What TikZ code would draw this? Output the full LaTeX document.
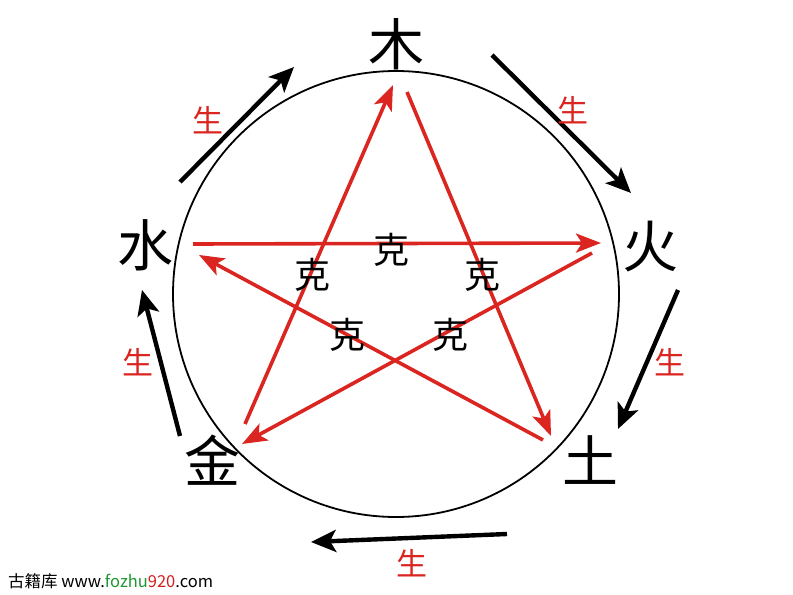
\documentclass[tikz,border=0pt]{standalone}
\usepackage{fontspec}
\newfontfamily\cjk{Noto Sans CJK SC}
\usetikzlibrary{arrows.meta}
\definecolor{kered}{RGB}{218,37,32}
\definecolor{wmgreen}{RGB}{30,150,50}
\definecolor{wmred}{RGB}{210,30,30}
\tikzset{
  elem/.style={font=\cjk\fontsize{56bp}{60bp}\selectfont, inner sep=0pt},
  kelabel/.style={font=\cjk\fontsize{36bp}{40bp}\selectfont, inner sep=0pt},
  shenglabel/.style={font=\cjk\fontsize{31bp}{34bp}\selectfont, text=kered, inner sep=0pt},
  sheng/.style={line width=4.4bp, -{Stealth[length=25bp,width=22bp,inset=6bp]}},
  ke/.style={kered, line width=3.6bp, -{Stealth[length=25bp,width=19bp,inset=6bp]}},
}
\begin{document}
\begin{tikzpicture}[x=1bp,y=-1bp]
\useasboundingbox (0,0) rectangle (793,595);
% circle
\coordinate (c) at (396,294);
\draw[line width=1.8bp] (c) circle (223);
% element labels
\node[elem] (mu) at (396,44) {木};
\node[elem] (huo) at (650,247) {火};
\node[elem] (tu) at (590,460) {土};
\node[elem] (jin) at (212,460) {金};
\node[elem] (shui) at (145,245) {水};
% sheng arrow endpoints
\coordinate (s1a) at (180,182); \coordinate (s1b) at (294,67);
\coordinate (s2a) at (492,55);  \coordinate (s2b) at (631,193);
\coordinate (s3a) at (678,290); \coordinate (s3b) at (618,429);
\coordinate (s4a) at (507,534); \coordinate (s4b) at (311,542);
\coordinate (s5a) at (180,436); \coordinate (s5b) at (142,290);
\draw[sheng] (s1a) -- (s1b);
\draw[sheng] (s2a) -- (s2b);
\draw[sheng] (s3a) -- (s3b);
\draw[sheng] (s4a) -- (s4b);
\draw[sheng] (s5a) -- (s5b);
\node[shenglabel] (g1) at (208,120) {生};
\node[shenglabel] (g2) at (573,110) {生};
\node[shenglabel] (g3) at (670,362) {生};
\node[shenglabel] (g4) at (412,563) {生};
\node[shenglabel] (g5) at (138,362) {生};
% ke arrow endpoints
\coordinate (k1a) at (245,424); \coordinate (k1b) at (393,85);
\coordinate (k2a) at (407,92);  \coordinate (k2b) at (551,436);
\coordinate (k3a) at (543,440); \coordinate (k3b) at (199,255);
\coordinate (k4a) at (193,244); \coordinate (k4b) at (601,243);
\coordinate (k5a) at (592,253); \coordinate (k5b) at (242,444);
\draw[ke] (k1a) -- (k1b);
\draw[ke] (k2a) -- (k2b);
\draw[ke] (k3a) -- (k3b);
\draw[ke] (k4a) -- (k4b);
\draw[ke] (k5a) -- (k5b);
\node[kelabel] (ke1) at (391,250) {克};
\node[kelabel] (ke2) at (312,275) {克};
\node[kelabel] (ke3) at (482,275) {克};
\node[kelabel] (ke4) at (347,335) {克};
\node[kelabel] (ke5) at (450,335) {克};
% watermark
\node[anchor=west, inner sep=0pt, font=\cjk\fontsize{16.5bp}{18bp}\selectfont] (wm) at (8,581)
  {古籍库 www.\textcolor{wmgreen}{fozhu}\textcolor{wmred}{920}.com};
\end{tikzpicture}
\end{document}
